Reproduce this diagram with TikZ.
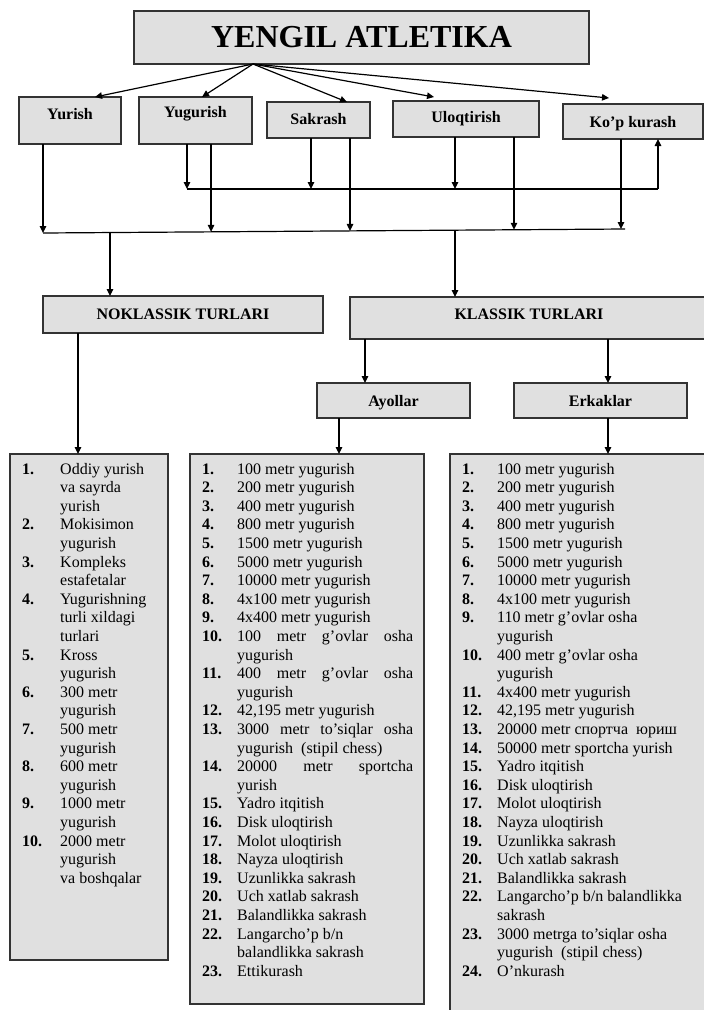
\documentclass[tikz,border=0pt]{standalone}
\usepackage{fontspec}
\setmainfont{Liberation Serif}
\usetikzlibrary{arrows.meta,calc}
\definecolor{boxfill}{HTML}{E0E0E0}
\definecolor{boxline}{HTML}{333333}
\newlength\numw
\newcommand\lnum[1]{\makebox[\numw][l]{\bfseries #1}}
\newcommand\lcont{\hspace*{\numw}}
\begin{document}
\begin{tikzpicture}[x=1pt,y=-1pt,
  catbox/.style={draw=boxline, fill=boxfill, line width=1.3pt, inner sep=0pt, outer sep=0pt,
    font=\fontsize{16}{19}\selectfont\bfseries, anchor=north west},
  listbox/.style={draw=boxline, fill=boxfill, line width=1.3pt, inner sep=0pt, outer sep=0pt, anchor=north west},
  listtext/.style={inner sep=0pt, anchor=base west, font=\fontsize{16}{18.6}\selectfont},
  arr/.style={line width=1.2pt, -{Triangle[length=7pt,width=6.5pt]}},
  conn/.style={line width=1.2pt},
]
\useasboundingbox (0,0) rectangle (704,1010);
\begin{scope}
\clip (0,0) rectangle (704,1010);
\fill[white] (0,0) rectangle (704,1010);

% top boxes
\node[catbox, font=\fontsize{32}{36}\selectfont\bfseries, minimum width=455pt, text height=36pt, text depth=17pt] (title) at (134,11) {YENGIL ATLETIKA};
\node[catbox, minimum width=102pt, text height=22pt, text depth=25pt] (yurish) at (19,97) {Yurish};
\node[catbox, minimum width=113pt, text height=20pt, text depth=27pt] (yugurish) at (139,97) {Yugurish};
\node[catbox, minimum width=103pt, text height=22pt, text depth=14pt] (sakrash) at (267,102) {Sakrash};
\node[catbox, minimum width=146pt, text height=21pt, text depth=15pt] (uloq) at (393,101) {Uloqtirish};
\node[catbox, minimum width=140pt, text height=23pt, text depth=12pt] (kop) at (563,104) {Ko’p kurash};

\node[catbox, minimum width=280pt, text height=23pt, text depth=14pt] (nokl) at (43,296) {NOKLASSIK TURLARI};
\node[catbox, minimum width=358pt, text height=22pt, text depth=20pt] (klas) at (350,297) {KLASSIK TURLARI};
\node[catbox, minimum width=153pt, text height=23pt, text depth=12pt] (ayol) at (317,383) {Ayollar};
\node[catbox, minimum width=173pt, text height=23pt, text depth=12pt] (erk) at (514,383) {Erkaklar};

% list boxes
\node[listbox, minimum width=158pt, minimum height=506pt] (L1) at (10,454) {};
\node[listbox, minimum width=234pt, minimum height=550pt] (L2) at (190,454) {};
\node[listbox, minimum width=262pt, minimum height=575pt] (L3) at (450,454) {};

% arrows from title
\coordinate (apex) at (253,64);
\draw[arr] (apex) -- ([xshift=76pt]yurish.north west);
\draw[arr] (apex) -- ([xshift=63pt]yugurish.north west);
\draw[arr] (apex) -- ([xshift=80pt]sakrash.north west);
\draw[arr] (apex) -- ([xshift=41pt,yshift=4pt]uloq.north west);
\draw[arr] (apex) -- ([xshift=46pt,yshift=6pt]kop.north west);

% upper collecting line
\coordinate (uA) at (187,189);
\coordinate (u2) at (311,189);
\coordinate (u3) at (455,189);
\coordinate (uB) at (658,189);
\draw[arr] (yugurish.south -| uA) -- (uA);
\draw[arr] (sakrash.south -| u2) -- (u2);
\draw[arr] (uloq.south -| u3) -- (u3);
\draw[conn] (uA) -- (uB);
\draw[arr] (uB) -- (kop.south -| uB);

% lower collecting line
\coordinate (lA) at (43,233);
\coordinate (lB) at (625,229);
\coordinate (l1) at ($(lA)!0.2887!(lB)$);
\coordinate (l2) at ($(lA)!0.5275!(lB)$);
\coordinate (l3) at ($(lA)!0.8093!(lB)$);
\coordinate (l4) at ($(lA)!0.9931!(lB)$);
\draw[arr] (yurish.south -| lA) -- (lA);
\draw[arr] (yugurish.south -| l1) -- (l1);
\draw[arr] (sakrash.south -| l2) -- (l2);
\draw[arr] (uloq.south -| l3) -- (l3);
\draw[arr] (kop.south -| l4) -- (l4);
\draw[conn] (lA) -- (lB);
\coordinate (d1) at ($(lA)!0.1151!(lB)$);
\coordinate (d2) at ($(lA)!0.7079!(lB)$);
\draw[arr] (d1) -- (d1 |- nokl.north);
\draw[arr] (d2) -- (d2 |- klas.north);

% klassik split
\coordinate (k1) at ([xshift=48pt]ayol.north west);
\coordinate (k2) at ([xshift=94pt]erk.north west);
\draw[arr] (klas.south -| k1) -- (k1);
\draw[arr] (klas.south -| k2) -- (k2);

% down to lists
\coordinate (m1) at ([xshift=68pt]L1.north west);
\coordinate (m2) at ([xshift=149pt]L2.north west);
\coordinate (m3) at ([xshift=158pt]L3.north west);
\draw[arr] (nokl.south -| m1) -- (m1);
\draw[arr] (ayol.south -| m2) -- (m2);
\draw[arr] (erk.south -| m3) -- (m3);

% list texts
\node[listtext] (T1) at (22,474) {\setlength\numw{38pt}\parbox[t]{140pt}{\raggedright
\lnum{1.}Oddiy yurish\\
\lcont va sayrda\\
\lcont yurish\\
\lnum{2.}Mokisimon\\
\lcont yugurish\\
\lnum{3.}Kompleks\\
\lcont estafetalar\\
\lnum{4.}Yugurishning\\
\lcont turli xildagi\\
\lcont turlari\\
\lnum{5.}Kross\\
\lcont yugurish\\
\lnum{6.}300 metr\\
\lcont yugurish\\
\lnum{7.}500 metr\\
\lcont yugurish\\
\lnum{8.}600 metr\\
\lcont yugurish\\
\lnum{9.}1000 metr\\
\lcont yugurish\\
\lnum{10.}2000 metr\\
\lcont yugurish\\
\lcont va boshqalar}};

\node[listtext] (T2) at (202,474) {\setlength\numw{35pt}\parbox[t]{215pt}{\raggedright
\lnum{1.}100 metr yugurish\\
\lnum{2.}200 metr yugurish\\
\lnum{3.}400 metr yugurish\\
\lnum{4.}800 metr yugurish\\
\lnum{5.}1500 metr yugurish\\
\lnum{6.}5000 metr yugurish\\
\lnum{7.}10000 metr yugurish\\
\lnum{8.}4x100 metr yugurish\\
\lnum{9.}4x400 metr yugurish\\
\lnum{10.}\hbox to 176pt{100\hfill metr\hfill g’ovlar\hfill osha}\\
\lcont yugurish\\
\lnum{11.}\hbox to 176pt{400\hfill metr\hfill g’ovlar\hfill osha}\\
\lcont yugurish\\
\lnum{12.}42,195 metr yugurish\\
\lnum{13.}\hbox to 176pt{3000\hfill metr\hfill to’siqlar\hfill osha}\\
\lcont yugurish\ \ (stipil chess)\\
\lnum{14.}\hbox to 176pt{20000\hfill metr\hfill sportcha}\\
\lcont yurish\\
\lnum{15.}Yadro itqitish\\
\lnum{16.}Disk uloqtirish\\
\lnum{17.}Molot uloqtirish\\
\lnum{18.}Nayza uloqtirish\\
\lnum{19.}Uzunlikka sakrash\\
\lnum{20.}Uch xatlab sakrash\\
\lnum{21.}Balandlikka sakrash\\
\lnum{22.}Langarcho’p b/n\\
\lcont balandlikka sakrash\\
\lnum{23.}Ettikurash}};

\node[listtext] (T3) at (462,474) {\setlength\numw{35pt}\parbox[t]{238pt}{\raggedright
\lnum{1.}100 metr yugurish\\
\lnum{2.}200 metr yugurish\\
\lnum{3.}400 metr yugurish\\
\lnum{4.}800 metr yugurish\\
\lnum{5.}1500 metr yugurish\\
\lnum{6.}5000 metr yugurish\\
\lnum{7.}10000 metr yugurish\\
\lnum{8.}4x100 metr yugurish\\
\lnum{9.}110 metr g’ovlar osha\\
\lcont yugurish\\
\lnum{10.}400 metr g’ovlar osha\\
\lcont yugurish\\
\lnum{11.}4x400 metr yugurish\\
\lnum{12.}42,195 metr yugurish\\
\lnum{13.}20000 metr спортча\ \ юриш\\
\lnum{14.}50000 metr sportcha yurish\\
\lnum{15.}Yadro itqitish\\
\lnum{16.}Disk uloqtirish\\
\lnum{17.}Molot uloqtirish\\
\lnum{18.}Nayza uloqtirish\\
\lnum{19.}Uzunlikka sakrash\\
\lnum{20.}Uch xatlab sakrash\\
\lnum{21.}Balandlikka sakrash\\
\lnum{22.}Langarcho’p b/n balandlikka\\
\lcont sakrash\\
\lnum{23.}3000 metrga to’siqlar osha\\
\lcont yugurish\ \ (stipil chess)\\
\lnum{24.}O’nkurash}};
\end{scope}
\end{tikzpicture}
\end{document}
